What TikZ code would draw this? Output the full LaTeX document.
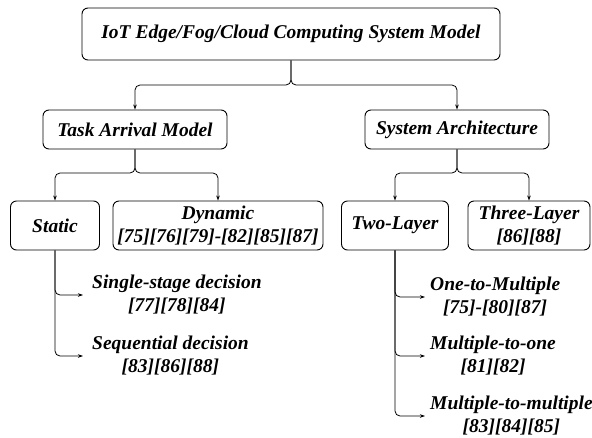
\documentclass[tikz,border=0pt]{standalone}
\usepackage{fontspec}
\setmainfont{Liberation Serif}
\usetikzlibrary{arrows.meta}
\begin{document}
\begin{tikzpicture}[x=1pt,y=-1pt,
  txt/.style={font=\fontsize{19.5}{23}\selectfont\bfseries\itshape},
  box/.style={txt,draw,rounded corners=6pt,line width=0.9pt,align=center,inner sep=0pt},
  leafl/.style={txt,anchor=west,align=center,inner ysep=0pt,inner xsep=9pt},
  leafr/.style={txt,anchor=west,align=center,inner ysep=0pt,inner xsep=5pt},
  conn/.style={line width=0.8pt,-{Stealth[length=5pt,width=3.5pt]},rounded corners=5pt}]
\useasboundingbox (0,0) rectangle (592,437);
\node[box,minimum width=418pt,minimum height=52pt] (top) at (291,34) {IoT Edge/Fog/Cloud Computing System Model};
\node[box,minimum width=184pt,minimum height=39pt] (tam) at (135,129.5) {Task Arrival Model};
\node[box,minimum width=184pt,minimum height=39pt] (sa) at (457,129.5) {System Architecture};
\node[box,minimum width=89pt,minimum height=49pt] (static) at (55,225.5) {Static};
\node[box,minimum width=210pt,minimum height=49pt] (dyn) at (218,225.5) {Dynamic\\{[75][76][79]-[82][85][87]}};
\node[box,minimum width=107pt,minimum height=49pt] (two) at (395,225.5) {Two-Layer};
\node[box,minimum width=122pt,minimum height=49pt] (three) at (529,225.5) {Three-Layer\\{[86][88]}};
\node[leafl] (l1) at (83,295) {Single-stage decision\\{[77][78][84]}};
\node[leafl] (l2) at (83,356) {Sequential decision\\{[83][86][88]}};
\node[leafr] (r1) at (425,297) {One-to-Multiple\\{[75]-[80][87]}};
\node[leafr] (r2) at (425,356) {Multiple-to-one\\{[81][82]}};
\node[leafr] (r3) at (425,416) {Multiple-to-multiple\\{[83][84][85]}};
\coordinate (s0) at (top.south |- 0,85);
\coordinate (s1) at (tam.south |- 0,173);
\coordinate (s2) at (sa.south |- 0,173);
\draw[conn] (top.south) -- (s0) -| (tam.north);
\draw[conn] (top.south) -- (s0) -| (sa.north);
\draw[conn] (tam.south) -- (s1) -| (static.north);
\draw[conn] (tam.south) -- (s1) -| (dyn.north);
\draw[conn] (sa.south) -- (s2) -| (two.north);
\draw[conn] (sa.south) -- (s2) -| (three.north);
\draw[conn] (static.south) |- (l1.west);
\draw[conn] (static.south) |- (l2.west);
\draw[conn] (two.south) |- (r1.west);
\draw[conn] (two.south) |- (r2.west);
\draw[conn] (two.south) |- (r3.west);
\end{tikzpicture}
\end{document}
